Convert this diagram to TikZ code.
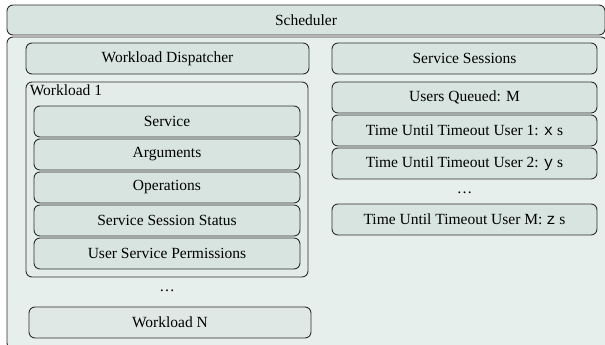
\documentclass[tikz,border=0pt]{standalone}
\usepackage{fontspec}
\setmainfont{Liberation Serif}
\setmonofont{Liberation Mono}
\usetikzlibrary{positioning}

\definecolor{boxfill}{HTML}{D7E4DF}
\definecolor{panelfill}{HTML}{E7EFEC}
\definecolor{groupfill}{HTML}{E3ECE9}
\definecolor{lastfill}{HTML}{DFE8E5}
\definecolor{edge}{HTML}{2E2E2E}

\begin{document}
\begin{tikzpicture}[x=1pt, y=-1pt,
  every node/.style = {font=\fontsize{15.5}{18}\selectfont},
  box/.style = {shape=rectangle, rounded corners=6pt, draw=edge, line width=0.9pt,
    fill=boxfill, inner sep=0pt, align=center, minimum height=31pt},
  leftbox/.style = {box, minimum width=266pt},
  rightbox/.style = {box, minimum width=265pt}]

  \useasboundingbox (0,0) rectangle (605,345);

  % top bar and body
  \node[box, minimum width=598pt, minimum height=30pt] (sched) at (306,20) {Scheduler};
  \node[box, fill=panelfill, minimum width=600pt, minimum height=312pt] (panel) at (307,193) {};

  % left column
  \node[box, minimum width=283pt] (disp) at (167.5,58.5) {Workload Dispatcher};
  \node[box, fill=groupfill, minimum width=282pt, minimum height=195pt] (wl1) at (167,179.5) {};
  \node[anchor=north west, inner sep=1pt] (wl1label) at ([xshift=3pt, yshift=-2pt]wl1.north west) {Workload 1};

  \node[leftbox] (service) at (167,121.5) {Service};
  \node[leftbox] (args)    at (167,154.5) {Arguments};
  \node[leftbox] (ops)     at (167,187.5) {Operations};
  \node[leftbox] (status)  at (167,220.5) {Service Session Status};
  \node[leftbox] (perms)   at (167,253.5) {User Service Permissions};

  \node (ldots) at (167,291) {\ldots};
  \node[box, fill=lastfill, minimum width=282pt] (wln) at (170,322.5) {Workload N};

  % right column
  \node[rightbox] (sessions) at (464.5,58.5)  {Service Sessions};
  \node[rightbox] (queued)   at (464.5,97.5)  {Users Queued: M};
  \node[rightbox] (user1)    at (464.5,130.5) {Time Until Timeout User 1: \texttt{x} s};
  \node[rightbox] (user2)    at (464.5,163.5) {Time Until Timeout User 2: \texttt{y} s};
  \node (rdots) at (464.5,193) {\ldots};
  \node[rightbox] (userm)    at (464.5,219.5) {Time Until Timeout User M: \texttt{z} s};
\end{tikzpicture}
\end{document}
